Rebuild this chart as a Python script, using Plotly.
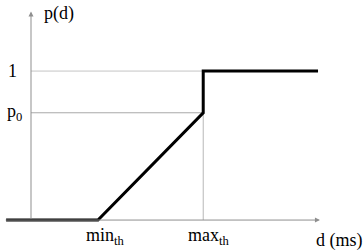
import plotly.graph_objects as go

# Data (semantic units)
d_points = [-13, 35, 90, 90, 150]      # d (ms)
p_points = [0, 0, 0.72, 1, 1]          # p(d)
min_th = 35
max_th = 90
p0 = 0.72
d_axis_start = -14
d_axis_end = 151
p_axis_top = 1.40

FONT = "Liberation Serif, Times New Roman, serif"
GRAY = "#8f8f8f"

fig = go.Figure()

# guide lines
fig.add_trace(go.Scatter(x=[0, max_th], y=[1, 1], mode="lines",
                         line=dict(color="#c4c4c4", width=1), hoverinfo="skip"))
fig.add_trace(go.Scatter(x=[0, max_th], y=[p0, p0], mode="lines",
                         line=dict(color="#a8a8a8", width=1), hoverinfo="skip"))
fig.add_trace(go.Scatter(x=[max_th, max_th], y=[0, p0], mode="lines",
                         line=dict(color="#b8b8b8", width=1), hoverinfo="skip"))

# main curve
fig.add_trace(go.Scatter(x=d_points, y=p_points, mode="lines",
                         line=dict(color="black", width=3), hoverinfo="skip"))

# axes with arrows
fig.add_annotation(x=d_axis_end, y=0, ax=d_axis_start, ay=0, xref="x", yref="y",
                   axref="x", ayref="y", showarrow=True, arrowhead=2, arrowsize=1,
                   arrowwidth=1, arrowcolor=GRAY, text="")
fig.add_annotation(x=0, y=p_axis_top, ax=0, ay=0, xref="x", yref="y",
                   axref="x", ayref="y", showarrow=True, arrowhead=2, arrowsize=1,
                   arrowwidth=1, arrowcolor=GRAY, text="")

labels = [
    ("p(d)", 14.5, 1.385),
    ("1", -9.5, 1.0),
    ("p<sub>0</sub>", -8.5, p0),
    ("min<sub>th</sub>", min_th + 4, -0.11),
    ("max<sub>th</sub>", max_th + 2.5, -0.11),
    ("d (ms)", 161, -0.135),
]
for txt, x, y in labels:
    fig.add_annotation(x=x, y=y, xref="x", yref="y", text=txt, showarrow=False,
                       font=dict(family=FONT, size=18, color="black"))

fig.update_layout(
    width=363, height=250,
    margin=dict(l=0, r=0, t=0, b=0),
    paper_bgcolor="white", plot_bgcolor="white",
    showlegend=False,
    font=dict(family=FONT, size=18, color="black"),
    xaxis=dict(range=[-16.2, 173.5], visible=False, fixedrange=True),
    yaxis=dict(range=[-0.201, 1.477], visible=False, fixedrange=True),
)

fig.write_html("out.html")
